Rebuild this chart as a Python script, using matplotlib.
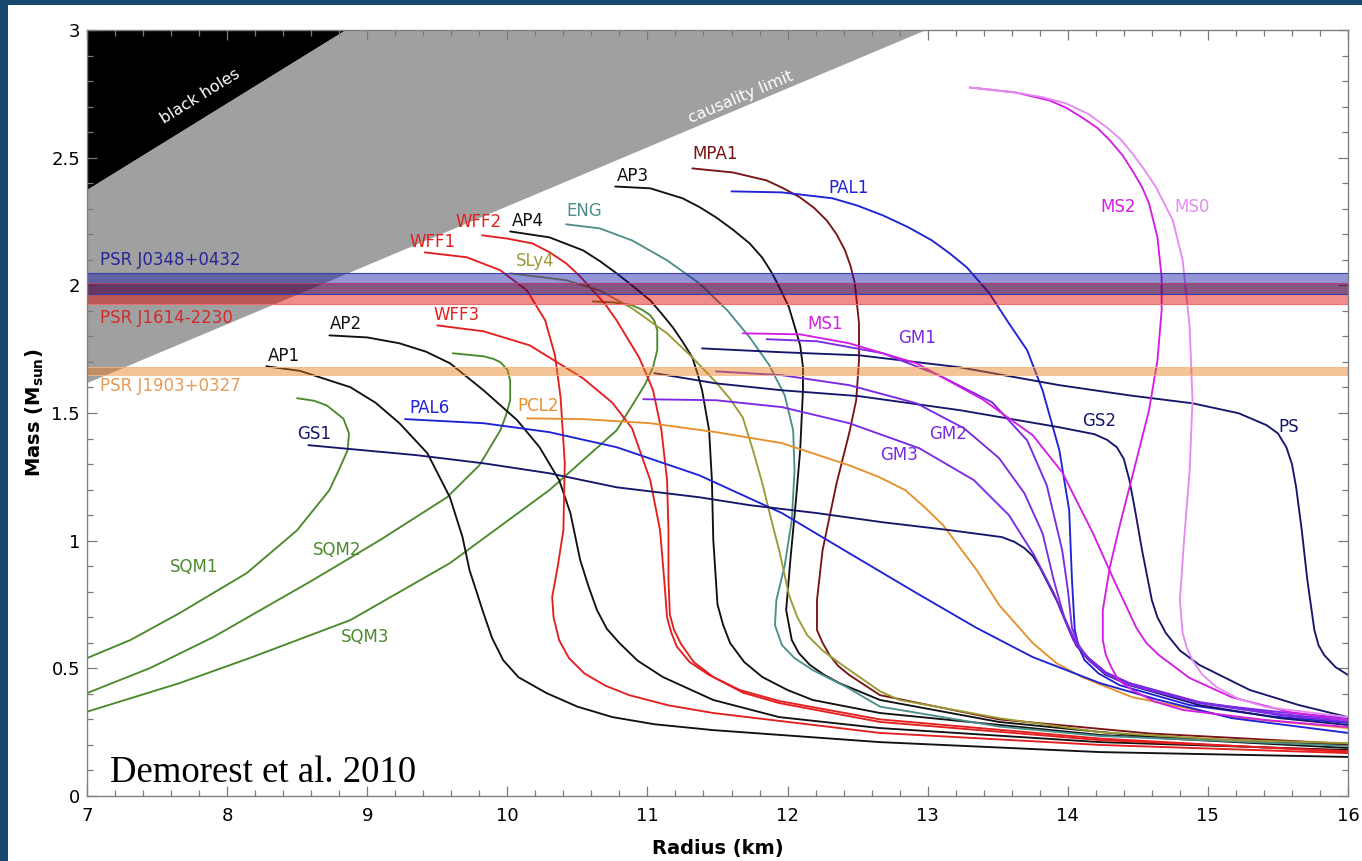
import numpy as np
import matplotlib
matplotlib.use("Agg")
import matplotlib.pyplot as plt
from matplotlib.patches import Polygon, Rectangle
from matplotlib.ticker import MultipleLocator, FixedLocator, FixedFormatter

# ---------------- data (radius km, mass Msun) ----------------
AP1_R = [8.28, 8.52, 8.88, 9.06, 9.23, 9.43, 9.59, 9.68, 9.73, 9.83, 9.89, 9.97, 10.08, 10.28, 10.50, 10.75, 11.05, 11.47, 12.66, 14.23, 16.0]
AP1_M = [1.683, 1.665, 1.601, 1.540, 1.460, 1.342, 1.170, 1.014, 0.885, 0.716, 0.620, 0.532, 0.465, 0.403, 0.350, 0.309, 0.281, 0.258, 0.211, 0.172, 0.153]

AP2_R = [8.73, 9.00, 9.23, 9.42, 9.59, 9.83, 10.07, 10.23, 10.37, 10.45, 10.52, 10.58, 10.64, 10.71, 10.80, 10.93, 11.11, 11.47, 11.94, 12.66, 14.23, 16.0]
AP2_M = [1.804, 1.796, 1.773, 1.740, 1.695, 1.589, 1.472, 1.366, 1.237, 1.108, 0.924, 0.820, 0.728, 0.655, 0.599, 0.530, 0.466, 0.376, 0.309, 0.266, 0.211, 0.180]

WFF1_R = [9.41, 9.71, 9.95, 10.14, 10.27, 10.34, 10.38, 10.41, 10.40, 10.36, 10.32, 10.33, 10.37, 10.44, 10.55, 10.70, 10.87, 11.15, 11.47, 12.66, 14.23, 16.0]
WFF1_M = [2.129, 2.110, 2.059, 1.980, 1.863, 1.726, 1.562, 1.303, 1.041, 0.900, 0.779, 0.700, 0.610, 0.540, 0.480, 0.432, 0.395, 0.355, 0.325, 0.247, 0.200, 0.168]

WFF2_R = [9.82, 10.00, 10.18, 10.30, 10.42, 10.52, 10.61, 10.70, 10.78, 10.86, 10.94, 10.99, 11.04, 11.10, 11.14, 11.15, 11.15, 11.16, 11.19, 11.24, 11.33, 11.47, 11.68, 11.94, 12.66, 14.23, 16.0]
WFF2_M = [2.196, 2.183, 2.164, 2.130, 2.086, 2.035, 1.980, 1.925, 1.863, 1.790, 1.718, 1.655, 1.589, 1.432, 1.237, 1.041, 0.845, 0.710, 0.650, 0.595, 0.525, 0.466, 0.405, 0.364, 0.290, 0.219, 0.176]

WFF3_R = [9.50, 9.83, 10.16, 10.54, 10.75, 10.89, 11.02, 11.09, 11.12, 11.14, 11.17, 11.21, 11.30, 11.44, 11.66, 11.94, 12.66, 14.23, 16.0]
WFF3_M = [1.843, 1.820, 1.765, 1.636, 1.540, 1.440, 1.237, 1.041, 0.845, 0.700, 0.640, 0.585, 0.525, 0.474, 0.415, 0.372, 0.300, 0.225, 0.172]

AP4_R = [10.02, 10.30, 10.54, 10.66, 10.78, 10.90, 11.02, 11.10, 11.18, 11.25, 11.32, 11.36, 11.39, 11.44, 11.46, 11.47, 11.50, 11.54, 11.59, 11.69, 11.82, 12.00, 12.18, 12.66, 14.23, 16.0]
AP4_M = [2.211, 2.188, 2.137, 2.095, 2.047, 1.995, 1.941, 1.890, 1.836, 1.780, 1.718, 1.650, 1.589, 1.432, 1.237, 1.002, 0.750, 0.670, 0.599, 0.525, 0.466, 0.415, 0.376, 0.325, 0.239, 0.188]

ENG_R = [10.42, 10.66, 10.89, 11.14, 11.37, 11.57, 11.73, 11.87, 11.98, 12.04, 12.05, 12.03, 11.98, 11.92, 11.91, 11.96, 12.05, 12.18, 12.42, 12.66, 13.51, 14.23, 16.0]
ENG_M = [2.239, 2.223, 2.176, 2.098, 2.008, 1.902, 1.796, 1.687, 1.569, 1.432, 1.276, 1.080, 0.904, 0.767, 0.669, 0.591, 0.540, 0.493, 0.427, 0.350, 0.272, 0.235, 0.196]

AP3_R = [10.77, 11.02, 11.25, 11.37, 11.49, 11.61, 11.73, 11.82, 11.89, 11.95, 12.01, 12.05, 12.09, 12.11, 12.11, 12.09, 12.06, 12.02, 11.99, 12.03, 12.08, 12.16, 12.26, 12.37, 12.66, 13.51, 14.58, 16.0]
AP3_M = [2.387, 2.380, 2.341, 2.307, 2.266, 2.218, 2.164, 2.108, 2.047, 1.983, 1.914, 1.840, 1.765, 1.680, 1.589, 1.354, 1.159, 0.924, 0.728, 0.611, 0.560, 0.513, 0.475, 0.442, 0.376, 0.290, 0.232, 0.200]

MPA1_R = [11.32, 11.61, 11.85, 11.97, 12.09, 12.19, 12.28, 12.35, 12.41, 12.45, 12.48, 12.51, 12.51, 12.49, 12.44, 12.35, 12.25, 12.21, 12.21, 12.25, 12.30, 12.36, 12.44, 12.66, 13.51, 14.58, 16.0]
MPA1_M = [2.458, 2.442, 2.411, 2.380, 2.344, 2.303, 2.254, 2.200, 2.137, 2.075, 2.008, 1.851, 1.706, 1.550, 1.421, 1.225, 0.963, 0.767, 0.650, 0.600, 0.552, 0.510, 0.474, 0.395, 0.300, 0.245, 0.204]

SLy4_R = [10.02, 10.42, 10.66, 10.89, 11.14, 11.32, 11.49, 11.59, 11.68, 11.75, 11.82, 11.88, 11.94, 12.01, 12.07, 12.14, 12.25, 12.37, 12.66, 12.80, 13.51, 14.23, 15.17, 16.0]
SLy4_M = [2.047, 2.020, 1.980, 1.910, 1.812, 1.718, 1.620, 1.555, 1.483, 1.360, 1.225, 1.090, 0.963, 0.787, 0.700, 0.630, 0.570, 0.521, 0.410, 0.376, 0.305, 0.250, 0.219, 0.207]

SQM1_R = [7.00, 7.31, 7.66, 8.14, 8.50, 8.73, 8.80, 8.86, 8.87, 8.83, 8.71, 8.62, 8.50]
SQM1_M = [0.540, 0.611, 0.716, 0.873, 1.041, 1.198, 1.280, 1.354, 1.420, 1.478, 1.530, 1.548, 1.558]

SQM2_R = [7.00, 7.45, 7.90, 8.61, 9.09, 9.57, 9.80, 9.95, 9.99, 10.02, 10.02, 10.00, 9.95, 9.90, 9.83, 9.61]
SQM2_M = [0.403, 0.501, 0.622, 0.845, 1.002, 1.170, 1.295, 1.432, 1.490, 1.550, 1.628, 1.670, 1.699, 1.712, 1.722, 1.734]

SQM3_R = [7.00, 7.66, 8.16, 8.88, 9.59, 10.30, 10.78, 10.88, 10.98, 11.04, 11.07, 11.07, 11.05, 11.02, 10.96, 10.89, 10.76, 10.61]
SQM3_M = [0.330, 0.442, 0.540, 0.689, 0.912, 1.198, 1.432, 1.520, 1.609, 1.680, 1.746, 1.824, 1.860, 1.883, 1.905, 1.922, 1.933, 1.937]

GS1_R = [8.58, 9.35, 9.83, 10.30, 10.78, 11.37, 11.73, 12.21, 12.68, 13.16, 13.53, 13.62, 13.69, 13.75, 13.80, 13.92, 14.01, 14.06, 14.15, 14.27, 14.44, 14.94, 15.51, 16.0]
GS1_M = [1.374, 1.335, 1.303, 1.264, 1.209, 1.170, 1.139, 1.108, 1.072, 1.041, 1.014, 0.995, 0.971, 0.940, 0.896, 0.767, 0.650, 0.590, 0.532, 0.475, 0.434, 0.356, 0.305, 0.278]

PAL6_R = [9.27, 9.83, 10.30, 10.78, 11.37, 11.96, 12.44, 12.92, 13.35, 13.75, 14.23, 14.65, 15.17, 16.0]
PAL6_M = [1.476, 1.460, 1.425, 1.366, 1.256, 1.108, 0.951, 0.795, 0.658, 0.544, 0.442, 0.376, 0.305, 0.247]

PCL2_R = [10.14, 10.54, 11.02, 11.49, 11.96, 12.44, 12.65, 12.84, 12.98, 13.11, 13.35, 13.51, 13.75, 13.92, 14.10, 14.46, 15.17, 16.0]
PCL2_M = [1.479, 1.476, 1.460, 1.425, 1.382, 1.295, 1.250, 1.198, 1.130, 1.061, 0.885, 0.748, 0.599, 0.520, 0.466, 0.387, 0.309, 0.266]

GM3_R = [10.97, 11.49, 11.96, 12.44, 12.94, 13.33, 13.58, 13.76, 13.90, 14.01, 14.07, 14.15, 14.28, 14.44, 14.94, 15.51, 16.0]
GM3_M = [1.554, 1.550, 1.523, 1.460, 1.362, 1.237, 1.100, 0.943, 0.795, 0.658, 0.590, 0.540, 0.480, 0.442, 0.364, 0.317, 0.290]

GM2_R = [11.49, 11.96, 12.44, 12.92, 13.26, 13.51, 13.69, 13.82, 13.90, 13.98, 14.04, 14.12, 14.27, 14.44, 14.94, 15.51, 16.0]
GM2_M = [1.663, 1.648, 1.609, 1.538, 1.440, 1.323, 1.186, 1.029, 0.845, 0.689, 0.610, 0.552, 0.485, 0.442, 0.368, 0.321, 0.297]

GM1_R = [11.85, 12.21, 12.68, 13.08, 13.46, 13.71, 13.85, 13.96, 14.00, 14.03, 14.08, 14.15, 14.28, 14.44, 14.94, 15.51, 16.0]
GM1_M = [1.789, 1.781, 1.734, 1.648, 1.542, 1.393, 1.217, 0.963, 0.810, 0.658, 0.590, 0.532, 0.475, 0.434, 0.364, 0.329, 0.305]

MS1_R = [11.68, 12.09, 12.44, 12.92, 13.39, 13.75, 13.96, 14.18, 14.33, 14.49, 14.56, 14.65, 14.87, 15.17, 15.58, 16.0]
MS1_M = [1.812, 1.808, 1.773, 1.695, 1.554, 1.413, 1.268, 1.029, 0.845, 0.658, 0.600, 0.552, 0.462, 0.387, 0.329, 0.297]

GS2_R = [11.05, 11.49, 11.96, 12.51, 13.23, 13.94, 14.19, 14.28, 14.35, 14.40, 14.44, 14.48, 14.53, 14.60, 14.64, 14.70, 14.80, 14.94, 15.30, 15.65, 16.0]
GS2_M = [1.656, 1.616, 1.589, 1.566, 1.511, 1.444, 1.417, 1.395, 1.366, 1.320, 1.237, 1.120, 0.963, 0.767, 0.700, 0.638, 0.570, 0.513, 0.415, 0.356, 0.309]

PS_R = [11.39, 11.96, 12.51, 13.23, 13.94, 14.44, 14.89, 15.22, 15.42, 15.50, 15.56, 15.60, 15.63, 15.67, 15.71, 15.76, 15.79, 15.83, 15.91, 16.0]
PS_M = [1.753, 1.738, 1.726, 1.679, 1.609, 1.569, 1.538, 1.499, 1.452, 1.420, 1.366, 1.300, 1.209, 1.041, 0.845, 0.650, 0.590, 0.552, 0.505, 0.474]

PAL1_R = [11.60, 11.96, 12.32, 12.50, 12.68, 12.86, 13.03, 13.16, 13.28, 13.44, 13.58, 13.71, 13.82, 13.94, 14.01, 14.03, 14.05, 14.08, 14.12, 14.22, 14.37, 14.87, 15.44, 16.0]
PAL1_M = [2.368, 2.364, 2.341, 2.312, 2.274, 2.228, 2.176, 2.124, 2.070, 1.969, 1.851, 1.746, 1.589, 1.354, 1.119, 0.845, 0.650, 0.580, 0.532, 0.480, 0.434, 0.356, 0.313, 0.286]

MS2_R = [13.30, 13.63, 13.87, 13.99, 14.10, 14.21, 14.30, 14.39, 14.46, 14.53, 14.58, 14.64, 14.67, 14.67, 14.64, 14.58, 14.49, 14.38, 14.30, 14.25, 14.25, 14.27, 14.31, 14.36, 14.46, 14.62, 14.82, 15.42, 16.0]
MS2_M = [2.775, 2.755, 2.724, 2.695, 2.658, 2.617, 2.568, 2.510, 2.450, 2.385, 2.321, 2.188, 2.031, 1.902, 1.706, 1.511, 1.315, 1.080, 0.896, 0.728, 0.611, 0.555, 0.505, 0.455, 0.415, 0.370, 0.337, 0.297, 0.270]

MS0_R = [13.30, 13.63, 13.82, 13.99, 14.15, 14.28, 14.38, 14.46, 14.55, 14.63, 14.75, 14.82, 14.87, 14.89, 14.87, 14.83, 14.80, 14.82, 14.85, 14.89, 14.96, 15.06, 15.22, 15.42, 16.0]
MS0_M = [2.775, 2.755, 2.737, 2.712, 2.670, 2.618, 2.570, 2.517, 2.450, 2.384, 2.254, 2.098, 1.836, 1.550, 1.276, 1.002, 0.767, 0.638, 0.580, 0.532, 0.475, 0.427, 0.380, 0.348, 0.309]

# pulsar mass measurements (Msun): centre, half width
PSR_NAMES = ["PSR J0348+0432", "PSR J1614-2230", "PSR J1903+0327"]
PSR_MASS = [2.007, 1.967, 1.664]
PSR_HALF = [0.041, 0.041, 0.016]

# limits: R = k * M  (km per Msun)
BH_K = 2.95
CAUSAL_K = 4.33

X_TICKS = [7, 8, 9, 10, 11, 12, 13, 14, 15, 16]
Y_TICKS = [0, 0.5, 1, 1.5, 2, 2.5, 3]
Y_TICK_LABELS = ["0", "0.5", "1", "1.5", "2", "2.5", "3"]

# ---------------- styling ----------------
C_BLACK = "#111111"
C_RED = "#e41f1f"
C_DRED = "#7a1414"
C_TEAL = "#4e8f8c"
C_OLIVE = "#9c9a35"
C_GREEN = "#4b8a2c"
C_ORANGE = "#e8902e"
C_BLUE = "#1f22d6"
C_NAVY = "#15166a"
C_PURPLE = "#7b2ae3"
C_MAG = "#d41fe2"
C_LMAG = "#e58cf2"

curves = [
    (SQM1_R, SQM1_M, C_GREEN), (SQM2_R, SQM2_M, C_GREEN), (SQM3_R, SQM3_M, C_GREEN),
    (AP1_R, AP1_M, C_BLACK), (AP2_R, AP2_M, C_BLACK), (AP3_R, AP3_M, C_BLACK), (AP4_R, AP4_M, C_BLACK),
    (WFF1_R, WFF1_M, C_RED), (WFF2_R, WFF2_M, C_RED), (WFF3_R, WFF3_M, C_RED),
    (ENG_R, ENG_M, C_TEAL), (MPA1_R, MPA1_M, C_DRED), (SLy4_R, SLy4_M, C_OLIVE),
    (PCL2_R, PCL2_M, C_ORANGE), (PAL6_R, PAL6_M, C_BLUE), (PAL1_R, PAL1_M, C_BLUE),
    (GS1_R, GS1_M, C_NAVY), (GS2_R, GS2_M, C_NAVY), (PS_R, PS_M, C_NAVY),
    (GM1_R, GM1_M, C_PURPLE), (GM2_R, GM2_M, C_PURPLE), (GM3_R, GM3_M, C_PURPLE),
    (MS1_R, MS1_M, C_MAG), (MS2_R, MS2_M, C_MAG), (MS0_R, MS0_M, C_LMAG),
]

labels = [
    ("AP1", 8.29, 1.722, C_BLACK), ("AP2", 8.73, 1.847, C_BLACK), ("AP3", 10.78, 2.427, C_BLACK),
    ("AP4", 10.03, 2.250, C_BLACK), ("WFF1", 9.30, 2.168, C_RED), ("WFF2", 9.63, 2.247, C_RED),
    ("WFF3", 9.47, 1.883, C_RED), ("ENG", 10.42, 2.290, C_TEAL), ("MPA1", 11.32, 2.513, C_DRED),
    ("PAL1", 12.29, 2.380, C_BLUE), ("SLy4", 10.06, 2.094, C_OLIVE), ("PAL6", 9.30, 1.519, C_BLUE),
    ("GS1", 8.50, 1.417, C_NAVY), ("PCL2", 10.07, 1.526, C_ORANGE), ("SQM1", 7.59, 0.896, C_GREEN),
    ("SQM2", 8.61, 0.963, C_GREEN), ("SQM3", 8.81, 0.622, C_GREEN), ("MS1", 12.14, 1.847, C_MAG),
    ("GM1", 12.79, 1.793, C_PURPLE), ("GM2", 13.01, 1.417, C_PURPLE), ("GM3", 12.66, 1.335, C_PURPLE),
    ("GS2", 14.10, 1.468, C_NAVY), ("PS", 15.50, 1.444, C_NAVY), ("MS2", 14.23, 2.305, C_MAG),
    ("MS0", 14.76, 2.305, C_LMAG),
]

W, H = 1362, 861
fig = plt.figure(figsize=(W / 100, H / 100), dpi=100, facecolor="#17496f")
fig.add_artist(Rectangle((8 / W, 0), 1, (H - 5) / H, transform=fig.transFigure,
                         facecolor="white", edgecolor="none", zorder=-10))
ax = fig.add_axes([87 / W, (H - 796) / H, (1348 - 87) / W, (796 - 30) / H])
ax.set_xlim(7, 16)
ax.set_ylim(0, 3)

# forbidden regions
ax.add_patch(Polygon([(7, 7 / CAUSAL_K), (7, 7 / BH_K), (3 * BH_K, 3), (3 * CAUSAL_K, 3)],
                     closed=True, facecolor="#a0a0a0", edgecolor="none", zorder=1))
ax.add_patch(Polygon([(7, 7 / BH_K), (7, 3), (3 * BH_K, 3)],
                     closed=True, facecolor="black", edgecolor="none", zorder=1))

for r, m, c in curves:
    ax.plot(r, m, color=c, lw=1.35, zorder=2, solid_capstyle="round", solid_joinstyle="round")

# pulsar bands
b_lo, b_hi = PSR_MASS[0] - PSR_HALF[0], PSR_MASS[0] + PSR_HALF[0]
r_lo, r_hi = PSR_MASS[1] - PSR_HALF[1], PSR_MASS[1] + PSR_HALF[1]
o_lo, o_hi = PSR_MASS[2] - PSR_HALF[2], PSR_MASS[2] + PSR_HALF[2]
ax.axhspan(r_hi, b_hi, color=(0.06, 0.09, 0.66), alpha=0.45, lw=0, zorder=3)
ax.axhspan(b_lo, r_hi, color=(0.30, 0.02, 0.28), alpha=0.68, lw=0, zorder=3)
ax.axhspan(r_lo, b_lo, color=(0.87, 0.0, 0.0), alpha=0.45, lw=0, zorder=3)
ax.axhspan(o_lo, o_hi, color=(0.91, 0.48, 0.09), alpha=0.45, lw=0, zorder=3)
for yv, c in [(b_hi, "#3c3ca8"), (b_lo, "#3c3ca8"), (r_hi, "#b04070"), (r_lo, "#e87070")]:
    ax.axhline(yv, color=c, lw=0.8, zorder=3.1)
for yv in (o_lo, o_hi):
    ax.axhline(yv, color="#f2b98a", lw=0.6, zorder=3.1)

# labels
lab_font = dict(family="DejaVu Sans", fontsize=12)
for t, x, y, c in labels:
    ax.text(x, y, t, color=c, ha="left", va="center", zorder=5, **lab_font)

ax.text(7.093, 2.098, PSR_NAMES[0], color="#26269a", ha="left", va="center", zorder=5, **lab_font)
ax.text(7.093, 1.871, PSR_NAMES[1], color="#d42a2a", ha="left", va="center", zorder=5, **lab_font)
ax.text(7.093, 1.607, PSR_NAMES[2], color="#e89a58", ha="left", va="center", zorder=5, **lab_font)


def line_angle(k):
    p1 = ax.transData.transform((9.0, 9.0 / k))
    p2 = ax.transData.transform((12.0, 12.0 / k))
    return np.degrees(np.arctan2(p2[1] - p1[1], p2[0] - p1[0]))


ax.text(7.81, 2.74, "black holes", color="white", rotation=line_angle(BH_K),
        rotation_mode="anchor", ha="center", va="center", zorder=5, family="DejaVu Sans", fontsize=11.5)
ax.text(11.67, 2.735, "causality limit", color="white", rotation=line_angle(CAUSAL_K),
        rotation_mode="anchor", ha="center", va="center", zorder=5, family="DejaVu Sans", fontsize=11.5)

ax.text(7.164, 0.055, "Demorest et al. 2010", family="Liberation Serif", fontsize=26.5,
        color="black", ha="left", va="baseline", zorder=5)

# axes styling
ax.xaxis.set_major_locator(FixedLocator(X_TICKS))
ax.xaxis.set_minor_locator(MultipleLocator(0.2))
ax.yaxis.set_major_locator(FixedLocator(Y_TICKS))
ax.yaxis.set_major_formatter(FixedFormatter(Y_TICK_LABELS))
ax.yaxis.set_minor_locator(MultipleLocator(0.1))
ax.tick_params(which="both", direction="in", top=True, right=True, color="#7a7a7a",
               width=0.9, labelsize=13, labelcolor="black")
ax.tick_params(which="major", length=7)
ax.tick_params(which="minor", length=4)
ax.tick_params(axis="x", pad=8)
ax.tick_params(axis="y", pad=5)
for s in ax.spines.values():
    s.set_color("#808080")
    s.set_linewidth(1.0)
    s.set_zorder(6)

ax.set_xlabel("Radius (km)", fontsize=14, fontweight="bold", labelpad=10)
ax.set_ylabel(r"Mass (M$_{\mathbf{sun}}$)", fontsize=14, fontweight="bold", labelpad=4)

fig.savefig("out.png", dpi=100, facecolor=fig.get_facecolor())
